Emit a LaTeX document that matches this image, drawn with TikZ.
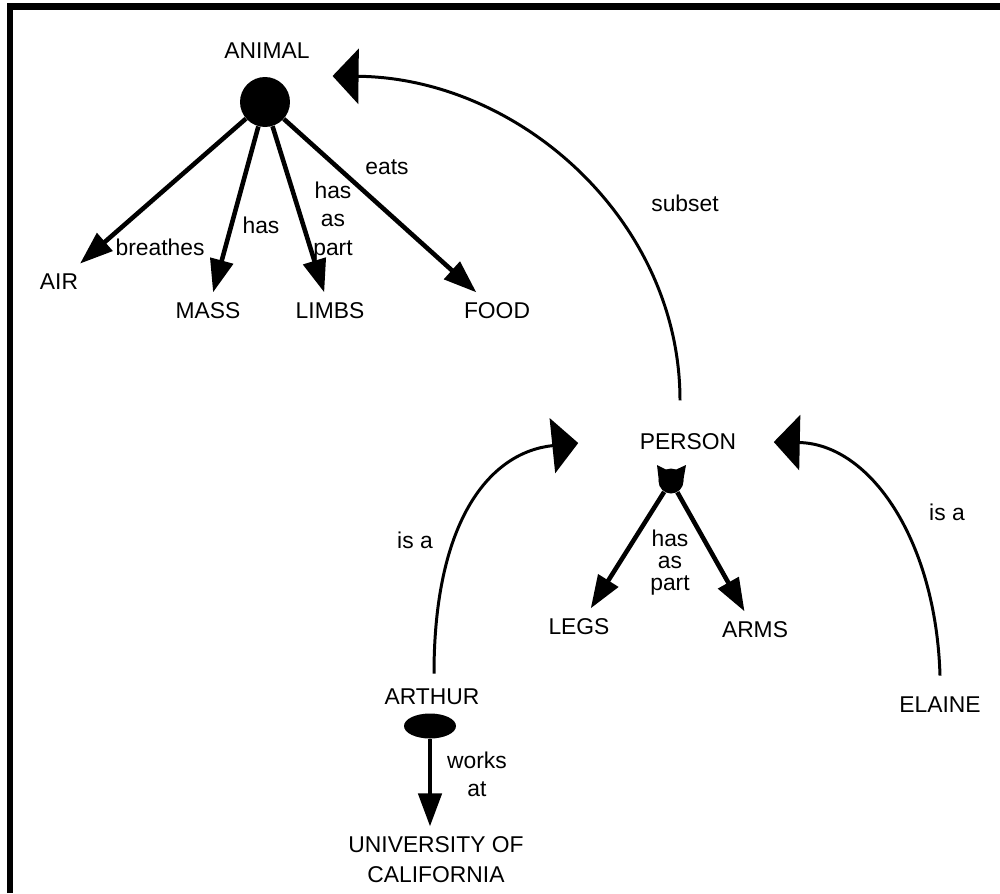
\documentclass[tikz,border=0pt]{standalone}
\usepackage{fontspec}
\setmainfont{Liberation Sans}
\usetikzlibrary{arrows.meta,shapes.geometric,calc}

\begin{document}
\begin{tikzpicture}[x=0.02cm,y=-0.02cm,
    every node/.style={font={\fontsize{13}{16}\selectfont}},
    concept/.style={inner sep=3pt,outer sep=3pt},
    relation/.style={inner sep=1pt,align=center},
    blob/.style={circle,fill=black,inner sep=0pt},
    hasarrow/.style={line width=2.6pt,-{Triangle[length=0.66cm,width=0.46cm]}},
    isarc/.style={line width=1.7pt,-{Triangle[length=0.52cm,width=1.1cm]}}]
  \useasboundingbox (0,0) rectangle (1000,893);

  % Drawing frame
  \draw [line width=0.13cm] (10,893) -- (10,6.5) -- (1000,6.5);

  % Marking concepts
  \node[concept] (animal) at (267,51) {ANIMAL};
  \node[blob,minimum size=1cm] (animaldot) at (265,102) {};
  \node[concept] (air) at (59,282) {AIR};
  \node[concept] (mass) at (208,311) {MASS};
  \node[concept] (limbs) at (330,311) {LIMBS};
  \node[concept] (food) at (497,311) {FOOD};
  \node[concept] (person) at (688,442) {PERSON};
  \node[blob,minimum size=0.5cm] (persondot) at (671,481) {};
  \node[concept] (legs) at (579,627) {LEGS};
  \node[concept] (arms) at (755,630) {ARMS};
  \node[concept] (arthur) at (432,697) {ARTHUR};
  \node[ellipse,fill=black,inner sep=0pt,minimum width=1.04cm,minimum height=0.5cm] (arthurdot) at (430,726) {};
  \node[concept,align=center,font={\fontsize{13}{17}\selectfont}] (univ) at (436,860) {UNIVERSITY OF\\CALIFORNIA};
  \node[concept] (elaine) at (940,705) {ELAINE};

  % Ears of the PERSON dot
  \fill (659,482) -- (657,465) -- (669,471) -- cycle;
  \fill (683,482) -- (686,465) -- (673,471) -- cycle;

  % Drawing arrows from ANIMAL
  \draw[hasarrow] (animaldot) -- (air);
  \draw[hasarrow] (animaldot) -- (mass);
  \draw[hasarrow] (animaldot) -- (limbs);
  \draw[hasarrow] (animaldot) -- (food);

  % Drawing arrows from PERSON and ARTHUR
  \draw[hasarrow] (persondot) -- (legs);
  \draw[hasarrow] (persondot) -- (arms);
  \draw[hasarrow] (arthurdot) -- (arthurdot |- univ.north);

  % Drawing arcs PERSON ANIMAL, ARTHUR PERSON, ELAINE PERSON
  \draw[isarc] ($(person.north)+(-8,-23)$) .. controls (680,221) and (520,78) .. ($(animal.east)+(12.5,25)$);
  \draw[isarc] ($(arthur.north)+(2,-5)$) .. controls (434,520) and (490,452) .. ($(person.west)+(-51,1)$);
  \draw[isarc] ($(elaine.north)+(0,-11)$) .. controls (936,540) and (870,444) .. ($(person.east)+(27,0)$);

  % Marking relations
  \node[relation] (breathes) at (160,247) {breathes};
  \node[relation] (hasmass) at (261,225) {has};
  \node[relation] (haspart) at (333,221) {has\\as\\part};
  \node[relation] (eats) at (387,167) {eats};
  \node[relation] (subset) at (685,203) {subset};
  \node[relation,font={\fontsize{13}{12.5}\selectfont}] (personpart) at (670,563) {has\\as\\part};
  \node[relation] (isaleft) at (415,540) {is a};
  \node[relation] (isaright) at (947,512) {is a};
  \node[relation] (worksat) at (477,774) {works\\at};
\end{tikzpicture}
\end{document}
